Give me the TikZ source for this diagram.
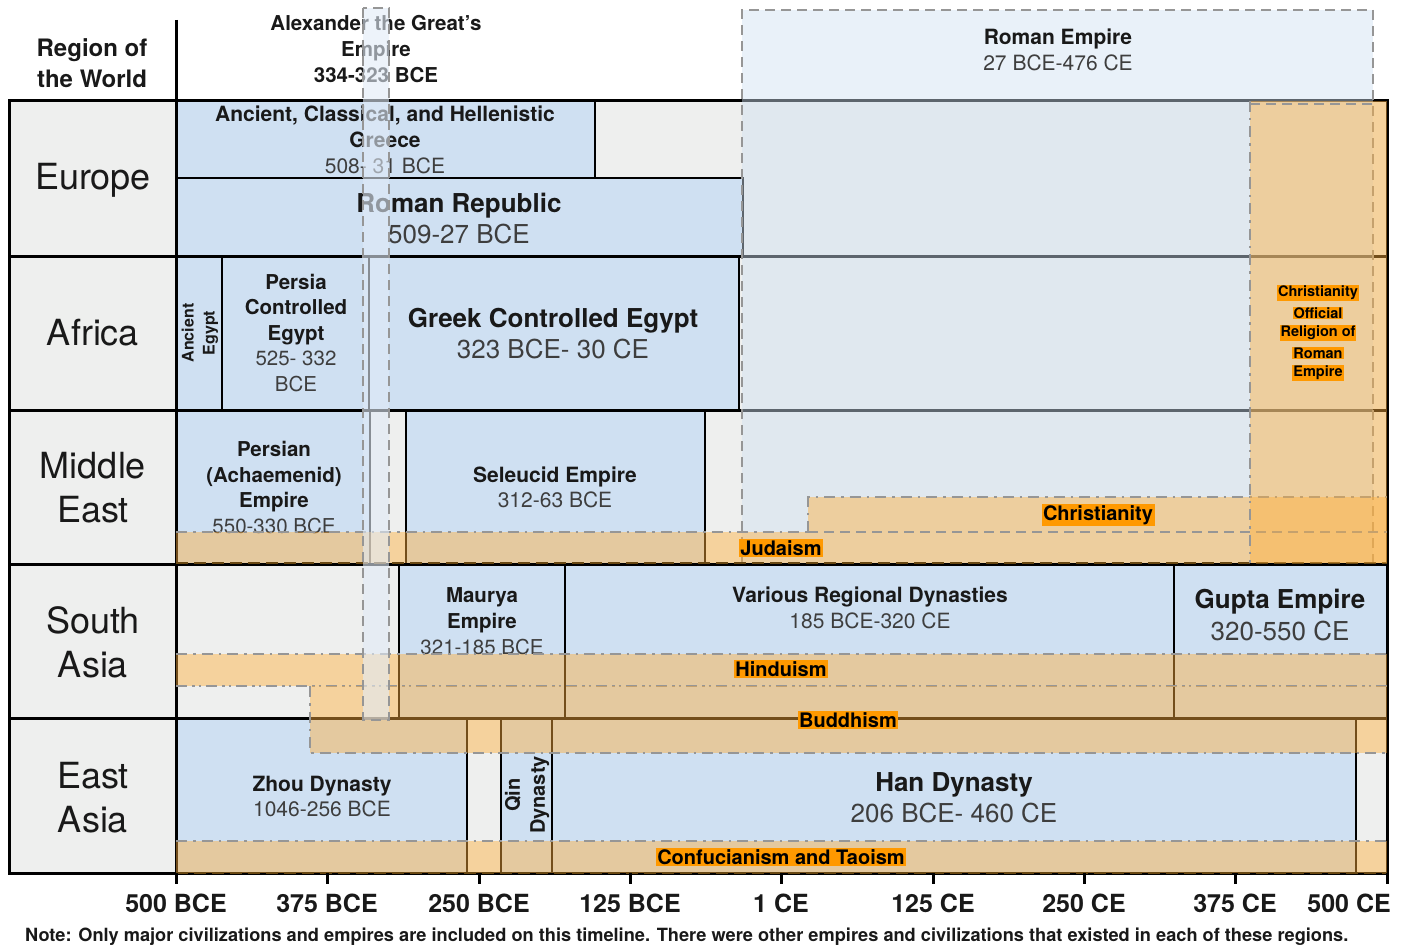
\documentclass[tikz,border=0pt]{standalone}
\usepackage{fontspec}
\setmainfont{TeX Gyre Heros}
\definecolor{civblue}{RGB}{207,224,242}
\definecolor{bggray}{RGB}{238,239,238}
\definecolor{barorange}{RGB}{255,175,60}
\definecolor{lblorange}{RGB}{255,153,0}
\definecolor{dashgray}{RGB}{150,150,150}
\definecolor{brownline}{RGB}{105,72,18}
\definecolor{datecol}{RGB}{62,62,62}
\definecolor{inkcol}{RGB}{25,25,25}
\definecolor{stripblue}{RGB}{225,235,247}
\newcommand\sz[2]{\fontsize{#1}{#2}\selectfont}
\tikzset{
  civbox/.style={fill=civblue, draw=black, line width=2.6pt},
  tline/.style={line width=3pt, black},
  overlayblue/.style={fill=civblue, fill opacity=0.45},
  ovborder/.style={draw=dashgray, line width=2pt, dash pattern=on 10pt off 6pt},
  barfill/.style={fill=barorange, fill opacity=0.45},
  dashdot/.style={draw=dashgray, line width=2.2pt, dash pattern=on 11pt off 6pt on 2.5pt off 6pt},
  dashdotdot/.style={draw=dashgray, line width=2.2pt, dash pattern=on 11pt off 5pt on 2.5pt off 4pt on 2.5pt off 5pt},
  browndash/.style={draw=brownline, line width=2.8pt, dash pattern=on 12pt off 6pt},
  lbl/.style={fill=lblorange, inner sep=1.5pt, text=black, font=\bfseries\sz{20}{24}},
  smalllbl/.style={fill=lblorange, inner sep=1pt, text=black, font=\bfseries\sz{14.5}{17}},
  civtext/.style={align=center, text=inkcol, inner sep=0pt},
  region/.style={align=center, font=\sz{36}{44}, text=inkcol, inner sep=0pt},
  axislbl/.style={font=\bfseries\sz{25}{30}, text=inkcol, inner sep=0pt},
}
\begin{document}
\begin{tikzpicture}[x=1pt,y=-1pt]
\useasboundingbox (0,0) rectangle (1406,947);
% backgrounds
\fill[white] (0,0) rectangle (1406,947);
\fill[bggray] (9,101) rectangle (1387,873);
% civilization boxes
\filldraw[civbox] (176,101) rectangle (595,178);
\filldraw[civbox] (176,178) rectangle (743,256);
\filldraw[civbox] (176,256) rectangle (222,410);
\filldraw[civbox] (222,256) rectangle (369,410);
\filldraw[civbox] (369,256) rectangle (739,410);
\filldraw[civbox] (176,410) rectangle (370,564);
\filldraw[civbox] (406,410) rectangle (705,564);
\filldraw[civbox] (399,564) rectangle (565,718);
\filldraw[civbox] (565,564) rectangle (1174,718);
\filldraw[civbox] (1174,564) rectangle (1387,718);
\filldraw[civbox] (176,718) rectangle (467,873);
\filldraw[civbox] (501,718) rectangle (552,873);
\filldraw[civbox] (552,718) rectangle (1356,873);
% table lines
\draw[tline] (9,101) rectangle (1387,873);
\foreach \yy in {256,410,564,718} \draw[tline] (9,\yy) -- (1387,\yy);
\draw[tline] (176,20) -- (176,873);
% region labels
\node[region] (europe) at (93,180) {Europe};
\node[region] (africa) at (93,333) {Africa};
\node[region] (mideast) at (93,488) {Middle\\East};
\node[region] (southasia) at (93,642) {South\\Asia};
\node[region] (eastasia) at (93,798) {East\\Asia};
\node[civtext, font=\bfseries\sz{24}{31}] (regionhdr) at (92,63.5) {Region of\\the World};
\node[civtext, font=\bfseries\sz{20.5}{26}] (alexhdr) at (376,49) {Alexander the Great's\\Empire\\334-323 BCE};
% civilization texts
\node[civtext, font=\sz{21}{26}] (greece) at (385,140) {\textbf{Ancient, Classical, and Hellenistic}\\\textbf{Greece}\\\textcolor{datecol}{508- 31 BCE}};
\node[civtext, font=\sz{26}{31}] (romrep) at (459,218.5) {\textbf{Roman Republic}\\\textcolor{datecol}{509-27 BCE}};
\node[civtext, font=\bfseries\sz{16}{21}, rotate=90] (ancegypt) at (200,333) {Ancient\\Egypt};
\node[civtext, font=\sz{20.5}{25.5}] (persegypt) at (296,333) {\textbf{Persia}\\\textbf{Controlled}\\\textbf{Egypt}\\\textcolor{datecol}{525- 332}\\\textcolor{datecol}{BCE}};
\node[civtext, font=\sz{26}{31}] (greekegypt) at (553,333.5) {\textbf{Greek Controlled Egypt}\\\textcolor{datecol}{323 BCE- 30 CE}};
\node[civtext, font=\sz{20.5}{25.5}] (achaemenid) at (274,487.5) {\textbf{Persian}\\\textbf{(Achaemenid)}\\\textbf{Empire}\\\textcolor{datecol}{550-330 BCE}};
\node[civtext, font=\sz{21}{25.5}] (seleucid) at (555,487.5) {\textbf{Seleucid Empire}\\\textcolor{datecol}{312-63 BCE}};
\node[civtext, font=\sz{20.5}{26}] (maurya) at (482,621) {\textbf{Maurya}\\\textbf{Empire}\\\textcolor{datecol}{321-185 BCE}};
\node[civtext, font=\sz{21}{26}] (various) at (870,608) {\textbf{Various Regional Dynasties}\\\textcolor{datecol}{185 BCE-320 CE}};
\node[civtext, font=\sz{26}{32}] (gupta) at (1280,615) {\textbf{Gupta Empire}\\\textcolor{datecol}{320-550 CE}};
\node[civtext, font=\sz{21}{25.5}] (zhou) at (322,796.5) {\textbf{Zhou Dynasty}\\\textcolor{datecol}{1046-256 BCE}};
\node[civtext, font=\bfseries\sz{20}{25}, rotate=90] (qin) at (527,795) {Qin\\Dynasty};
\node[civtext, font=\sz{26}{31}] (han) at (954,797.5) {\textbf{Han Dynasty}\\\textcolor{datecol}{206 BCE- 460 CE}};
% Roman Empire overlay
\fill[overlayblue] (742,10) rectangle (1373,563);
\draw[ovborder] (742,563) -- (742,10) -- (1373,10) -- (1373,563);
\node[civtext, font=\sz{21}{26}] (romemp) at (1058,50) {\textbf{Roman Empire}\\\textcolor{datecol}{27 BCE-476 CE}};
% religion bars
\fill[barfill] (176,532) rectangle (1387,563);
\draw[dashdot] (176,532) -- (808,532);
\draw[browndash] (176,563) -- (1387,563);
\fill[barfill] (808,497) rectangle (1387,532);
\draw[dashdot] (808,532) -- (808,497) -- (1387,497);
\draw[ovborder] (808,532) -- (1387,532);
\fill[barfill] (1250,101) rectangle (1387,563);
\draw[dashdot] (1250,101) -- (1250,563);
\draw[ovborder] (1250,104) -- (1373,104);
\fill[barfill] (176,654) rectangle (1387,686);
\draw[dashdot] (176,654) -- (1387,654);
\draw[dashdotdot] (176,686) -- (1387,686);
\fill[barfill] (310,686) rectangle (1387,753);
\draw[dashdot] (310,686) -- (310,753) -- (1387,753);
\fill[barfill] (176,841) rectangle (1387,873);
\draw[dashdot] (176,841) -- (1387,841);
\draw[browndash] (176,873) -- (1387,873);
% Alexander strip
\fill[stripblue, fill opacity=0.6] (363,8) rectangle (389,720);
\draw[ovborder] (363,8) rectangle (389,720);
% religion labels
\node[lbl] (judaism) at (781,548) {Judaism};
\node[lbl] (christianity) at (1098,515) {Christianity};
\node[lbl] (hinduism) at (781,669) {Hinduism};
\node[lbl] (buddhism) at (848,720) {Buddhism};
\node[lbl] (confucian) at (781,857) {Confucianism and Taoism};
\node[smalllbl] (off1) at (1318,293) {Christianity};
\node[smalllbl] (off2) at (1318,313) {Official};
\node[smalllbl] (off3) at (1318,333) {Religion of};
\node[smalllbl] (off4) at (1318,353) {Roman};
\node[smalllbl] (off5) at (1318,373) {Empire};
% axis
\foreach \xx in {176,327,479,630,781,933,1084,1235,1387} \draw[tline] (\xx,873) -- (\xx,884);
\node[axislbl] (t1) at (176,903) {500 BCE};
\node[axislbl] (t2) at (327,903) {375 BCE};
\node[axislbl] (t3) at (479,903) {250 BCE};
\node[axislbl] (t4) at (630,903) {125 BCE};
\node[axislbl] (t5) at (781,903) {1 CE};
\node[axislbl] (t6) at (933,903) {125 CE};
\node[axislbl] (t7) at (1084,903) {250 CE};
\node[axislbl] (t8) at (1235,903) {375 CE};
\node[axislbl, anchor=east] (t9) at (1391,903) {500 CE};
\node[anchor=west, inner sep=0pt, text=inkcol, font=\bfseries\sz{18.2}{20}] (note) at (25,937) {Note: Only major civilizations and empires are included on this timeline. There were other empires and civilizations that existed in each of these regions.};
\end{tikzpicture}
\end{document}
